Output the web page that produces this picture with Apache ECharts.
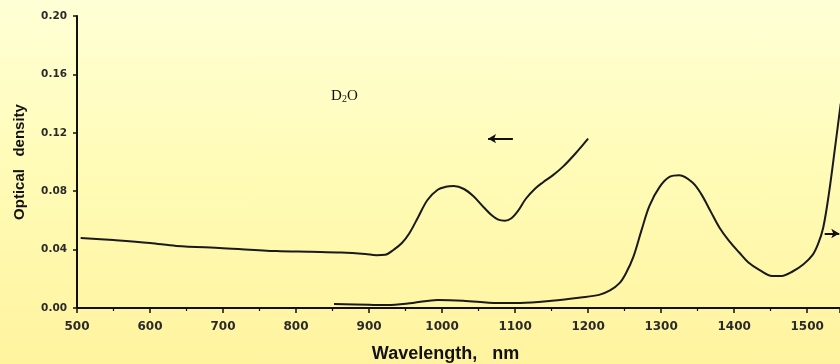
<!DOCTYPE html>
<html><head><meta charset="utf-8">
<script src="https://cdn.jsdelivr.net/npm/echarts@6/dist/echarts.min.js"></script>
<style>html,body{margin:0;padding:0;}#c{width:840px;height:364px;background:linear-gradient(180deg,#FFFFD6 0%,#FFFCB8 45%,#FFF39E 100%);}</style>
</head><body><div id="c"></div>
<script>
// D2O curve (left arrow)
const d2oWavelength = [505,550,600,636,700,773,820,862,895,910,922,934,945,955,967,980,994,1005,1016,1030,1043,1057,1068,1077,1086,1095,1104,1115,1128,1138,1152,1166,1183,1200];
const d2oDensity    = [0.048,0.0465,0.0445,0.0425,0.041,0.039,0.0385,0.038,0.037,0.0362,0.0365,0.040,0.0445,0.051,0.062,0.074,0.081,0.083,0.0835,0.0815,0.0765,0.069,0.0635,0.0605,0.0598,0.0615,0.0665,0.075,0.082,0.086,0.091,0.097,0.106,0.116];
// second curve (right arrow)
const h2oWavelength = [852,900,925,960,994,1029,1076,1107,1150,1190,1215,1230,1243,1252,1262,1273,1284,1298,1312,1325,1343,1355,1368,1380,1393,1407,1420,1435,1452,1465,1480,1495,1507,1515,1522,1530,1539,1546];
const h2oDensity    = [0.0027,0.0022,0.002,0.0035,0.0055,0.005,0.0034,0.0035,0.005,0.0072,0.009,0.012,0.017,0.024,0.035,0.053,0.070,0.083,0.090,0.091,0.086,0.078,0.066,0.055,0.046,0.038,0.031,0.026,0.022,0.022,0.025,0.030,0.036,0.044,0.055,0.079,0.113,0.140];
// arrows and label
const arrowLeft  = [[1097,0.116],[1063,0.116]];
const arrowRight = [[1524,0.051],[1544,0.051]];
const labelPos = [848,0.1445];

const pair = (xs,ys)=>xs.map((x,i)=>[x,ys[i]]);
const chart = echarts.init(document.getElementById('c'));
chart.setOption({
  animation:false,
  grid:{left:77,right:0,top:16,bottom:56,containLabel:false,outerBoundsMode:'none'},
  xAxis:{type:'value',min:500,max:1545,interval:100,
    name:'Wavelength,   nm',nameLocation:'middle',nameGap:37,
    nameTextStyle:{fontFamily:'Liberation Sans',fontWeight:'bold',fontSize:18,color:'#111',padding:[0,26,0,0]},
    axisLine:{lineStyle:{color:'#111',width:2}},
    axisTick:{show:true,length:5,lineStyle:{color:'#111',width:1.5}},
    minorTick:{show:true,splitNumber:2,length:3,lineStyle:{color:'#111',width:1.2}},
    splitLine:{show:false},
    axisLabel:{margin:13,showMaxLabel:false,formatter:v=>v%100===0?String(v):'',
      fontFamily:'DejaVu Sans',fontWeight:'bold',fontSize:12,color:'#2a2a2a'}},
  yAxis:{type:'value',min:0,max:0.2,interval:0.04,
    name:'Optical   density',nameLocation:'middle',nameGap:50,
    nameTextStyle:{fontFamily:'Liberation Sans',fontWeight:'bold',fontSize:15,color:'#111'},
    axisLine:{show:true,lineStyle:{color:'#111',width:2}},
    axisTick:{show:true,length:4,lineStyle:{color:'#111',width:1.5}},
    splitLine:{show:false},
    axisLabel:{margin:10,formatter:v=>v.toFixed(2),
      fontFamily:'DejaVu Sans',fontWeight:'bold',fontSize:10.5,color:'#2a2a2a'}},
  series:[
    {type:'line',data:pair(d2oWavelength,d2oDensity),smooth:0.35,showSymbol:false,
     lineStyle:{color:'#1a1a1a',width:2},
     markLine:{silent:true,symbol:['none','arrow'],symbolSize:[7,8],label:{show:false},
       lineStyle:{color:'#111',width:2,type:'solid'},data:[[{coord:arrowLeft[0]},{coord:arrowLeft[1]}]]}},
    {type:'line',data:pair(h2oWavelength,h2oDensity),smooth:0.35,showSymbol:false,
     lineStyle:{color:'#1a1a1a',width:2},
     markLine:{silent:true,symbol:['none','arrow'],symbolSize:[7,8],label:{show:false},
       lineStyle:{color:'#111',width:2,type:'solid'},data:[[{coord:arrowRight[0]},{coord:arrowRight[1]}]]}}
  ]
});
const p = chart.convertToPixel({gridIndex:0},labelPos);
chart.setOption({graphic:[{type:'text',left:p[0],top:p[1]-8,
  style:{text:'D{s|2}O',fontFamily:'Liberation Serif',fontSize:15,fill:'#111',
    rich:{s:{fontFamily:'Liberation Serif',fontSize:10,fill:'#111',verticalAlign:'bottom',padding:[6,0,0,0]}}}}]});
</script></body></html>
